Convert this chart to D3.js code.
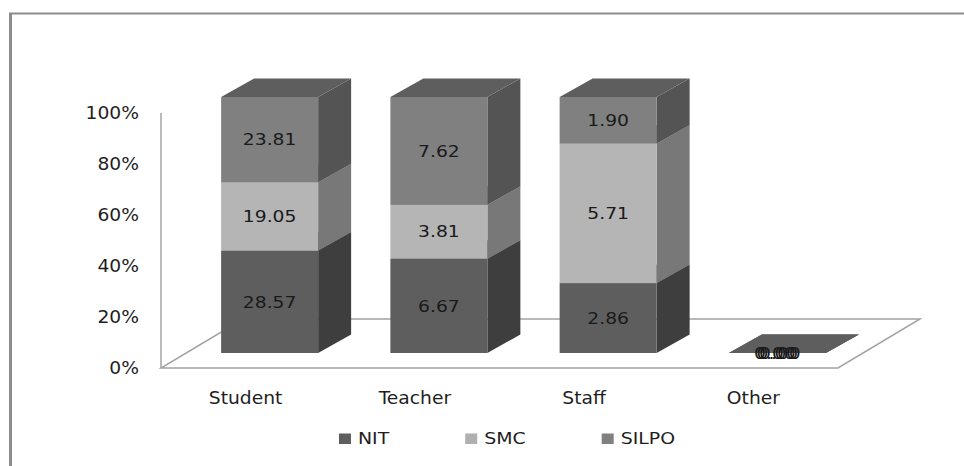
<!DOCTYPE html>
<html>
<head>
<meta charset="utf-8">
<script src="https://cdn.jsdelivr.net/npm/d3@7"></script>
<style>
  body { margin: 0; background: #fff; }
  svg { display: block; }
  text { font-family: "DejaVu Sans", Verdana, sans-serif; }
</style>
</head>
<body>
<svg id="chart" width="964" height="466"></svg>
<script>
// Chart data
const categories = ["Student", "Teacher", "Staff", "Other"];
const seriesNames = ["NIT", "SMC", "SILPO"];
const nitValues = [28.57, 6.67, 2.86, 0];
const smcValues = [19.05, 3.81, 5.71, 0];
const silpoValues = [23.81, 7.62, 1.90, 0];
const yTicks = [0, 0.2, 0.4, 0.6, 0.8, 1];

// Face shades per series: front, side, top
const shades = {
  NIT:   { front: "#5e5e5e", side: "#3e3e3e", top: "#4f4f4f" },
  SMC:   { front: "#b5b5b5", side: "#787878", top: "#8c8c8c" },
  SILPO: { front: "#808080", side: "#545454", top: "#5e5e5e" }
};
const legendSwatch = { NIT: "#5e5e5e", SMC: "#b0b0b0", SILPO: "#808080" };

const rows = categories.map((c, i) => ({
  category: c, NIT: nitValues[i], SMC: smcValues[i], SILPO: silpoValues[i]
}));

const stacked = d3.stack().keys(seriesNames).offset(d3.stackOffsetExpand)(rows);

const svg = d3.select("#chart");

// Outer frame
svg.append("line").attr("x1", 10.5).attr("x2", 10.5).attr("y1", 13).attr("y2", 466)
  .attr("stroke", "#8c8c8c").attr("stroke-width", 3);
svg.append("line").attr("x1", 9).attr("x2", 964).attr("y1", 13.5).attr("y2", 13.5)
  .attr("stroke", "#8c8c8c").attr("stroke-width", 2);

// Projection geometry
const floorLeft = 161, floorRight = 838, floorFrontY = 368;
const floorDepth = { dx: 82, dy: -49 };
const barOffset = { dx: 24, dy: -15 };   // bar front plane inside the floor
const barDepth = { dx: 33, dy: -18.5 };
const barWidth = 97;

const x = d3.scaleBand().domain(categories).range([floorLeft, floorRight]).padding(0);
const yAxis = d3.scaleLinear().domain([0, 1]).range([floorFrontY, 113]);
const yBar = d3.scaleLinear().domain([0, 1]).range([floorFrontY + barOffset.dy, 97]);

// Floor
const floorPts = [
  [floorLeft, floorFrontY],
  [floorRight, floorFrontY],
  [floorRight + floorDepth.dx, floorFrontY + floorDepth.dy],
  [floorLeft + floorDepth.dx, floorFrontY + floorDepth.dy]
];
svg.append("polygon")
  .attr("points", floorPts.map(p => p.join(",")).join(" "))
  .attr("fill", "#fff").attr("stroke", "#a3a3a3").attr("stroke-width", 1.5);

// Vertical axis line
svg.append("line")
  .attr("x1", floorLeft).attr("x2", floorLeft)
  .attr("y1", yAxis(1)).attr("y2", yAxis(0))
  .attr("stroke", "#a3a3a3").attr("stroke-width", 1.5);

// Y tick labels
const fmtPct = d3.format(".0%");
svg.append("g").selectAll("text").data(yTicks).join("text")
  .attr("transform", d => `translate(139,${yAxis(d)}) scale(1.1,1)`)
  .attr("text-anchor", "end").attr("dy", "0.36em")
  .attr("font-size", 17).attr("fill", "#1e1e1e")
  .text(d => fmtPct(d));

// Bars
const barsG = svg.append("g");
const labelsG = svg.append("g");
const fmtVal = d3.format(".2f");

categories.forEach((cat, j) => {
  const cx = x(cat) + x.bandwidth() / 2 + barOffset.dx;
  const x0 = cx - barWidth / 2, x1 = cx + barWidth / 2;
  stacked.forEach((s, i) => {
    const key = s.key;
    const d = s[j];
    const yb = yBar(d[0]), yt = yBar(d[1]);
    const sh = shades[key];
    // side face
    barsG.append("polygon")
      .attr("points", [[x1, yb], [x1 + barDepth.dx, yb + barDepth.dy],
                       [x1 + barDepth.dx, yt + barDepth.dy], [x1, yt]].map(p => p.join(",")).join(" "))
      .attr("fill", sh.side);
    // front face
    barsG.append("rect")
      .attr("x", x0).attr("y", yt).attr("width", barWidth).attr("height", Math.max(0, yb - yt))
      .attr("fill", sh.front);
    // top face
    barsG.append("polygon")
      .attr("points", [[x0, yt], [x1, yt], [x1 + barDepth.dx, yt + barDepth.dy],
                       [x0 + barDepth.dx, yt + barDepth.dy]].map(p => p.join(",")).join(" "))
      .attr("fill", sh.top);
    // value label
    const value = rows[j][key];
    const flat = (yb - yt) < 1;
    const lx = cx + (flat ? (i - 1) * 2.5 : 0);
    labelsG.append("text")
      .attr("transform", `translate(${lx},${(yb + yt) / 2}) scale(1.17,1)`)
      .attr("text-anchor", "middle").attr("dy", "0.36em")
      .attr("font-size", 16).attr("fill", "#1a1a1a")
      .text(fmtVal(value));
  });
});

// Category labels
svg.append("g").selectAll("text").data(categories).join("text")
  .attr("transform", d => `translate(${x(d) + x.bandwidth() / 2},404) scale(1.1,1)`)
  .attr("text-anchor", "middle")
  .attr("font-size", 17).attr("fill", "#1e1e1e")
  .text(d => d);

// Legend
const legendG = svg.append("g");
const legendScale = 1.22, swatch = 12, swGap = 7, itemGap = 76;
let lxCur = 0;
const items = seriesNames.map(name => {
  const g = legendG.append("g");
  g.append("rect").attr("x", 0).attr("y", -10.5).attr("width", swatch).attr("height", 10.5)
    .attr("fill", legendSwatch[name]);
  const t = g.append("text")
    .attr("transform", `translate(${swatch + swGap},0) scale(${legendScale},1)`)
    .attr("font-size", 15.5).attr("fill", "#1e1e1e").text(name);
  const w = swatch + swGap + t.node().getComputedTextLength() * legendScale;
  g.attr("transform", `translate(${lxCur},444)`);
  const item = { g, start: lxCur, w };
  lxCur += w + itemGap;
  return item;
});
const totalW = lxCur - itemGap;
legendG.attr("transform", `translate(${507 - totalW / 2},0)`);
</script>
</body>
</html>
